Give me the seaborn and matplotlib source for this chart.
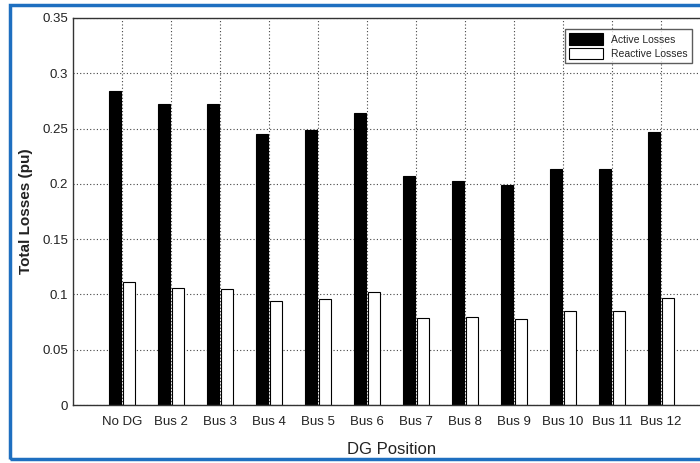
import pandas as pd
import matplotlib
matplotlib.use('Agg')
import matplotlib.pyplot as plt
import seaborn as sns
from matplotlib.patches import Rectangle

# values
positions = ['No DG', 'Bus 2', 'Bus 3', 'Bus 4', 'Bus 5', 'Bus 6',
             'Bus 7', 'Bus 8', 'Bus 9', 'Bus 10', 'Bus 11', 'Bus 12']
active_losses = [0.284, 0.272, 0.272, 0.245, 0.249, 0.264,
                 0.207, 0.203, 0.199, 0.213, 0.213, 0.247]
reactive_losses = [0.111, 0.106, 0.105, 0.094, 0.096, 0.102,
                   0.079, 0.080, 0.078, 0.085, 0.085, 0.097]
y_ticks = [0, 0.05, 0.1, 0.15, 0.2, 0.25, 0.3, 0.35]
y_tick_labels = ['0', '0.05', '0.1', '0.15', '0.2', '0.25', '0.3', '0.35']

df = pd.DataFrame({
    'DG Position': positions * 2,
    'Losses': active_losses + reactive_losses,
    'Type': ['Active Losses'] * len(positions) + ['Reactive Losses'] * len(positions),
})

sns.set_style('white')
plt.rcParams['font.family'] = ['Liberation Sans Narrow', 'Liberation Sans', 'DejaVu Sans']

fig = plt.figure(figsize=(7, 4.63), dpi=100)
ax = fig.add_axes([73 / 700, 1 - 405 / 463, 637 / 700, 387 / 463])

sns.barplot(data=df, x='DG Position', y='Losses', hue='Type',
            palette={'Active Losses': 'black', 'Reactive Losses': 'white'},
            edgecolor='black', linewidth=0.8, width=0.56, gap=0.08,
            errorbar=None, ax=ax)

ax.set_xlim(-1, 12)
ax.set_ylim(0, 0.35)
ax.set_yticks(y_ticks)
ax.set_yticklabels(y_tick_labels)
ax.grid(True, color='#444444', linestyle=(0, (1, 2)), linewidth=0.8)
ax.set_axisbelow(True)
for s in ax.spines.values():
    s.set_visible(True)
    s.set_color('#333333')
    s.set_linewidth(1.0)
ax.tick_params(direction='in', length=4, labelsize=9.5, colors='#222222')
ax.tick_params(axis='x', pad=8)

ax.set_xlabel('DG Position', fontsize=12, color='#222222', labelpad=10)
ax.set_ylabel('Total Losses (pu)', fontsize=11, color='#222222', fontweight='bold', labelpad=7)

leg = ax.legend(loc='upper right', bbox_to_anchor=(697 / 700, 1 - 24 / 463),
                bbox_transform=fig.transFigure, fontsize=7.5, frameon=True,
                fancybox=False, edgecolor='#333333', handlelength=3.2,
                handleheight=1.3, borderpad=0.4, labelspacing=0.3)
leg.get_frame().set_linewidth(1.0)

# blue frame around the picture
fig.patches.append(Rectangle((10 / 700, 4 / 463), 1.0, 454 / 463,
                             transform=fig.transFigure, fill=False,
                             edgecolor='#1e6fc0', linewidth=2.5))

fig.savefig('out.png', dpi=100)
